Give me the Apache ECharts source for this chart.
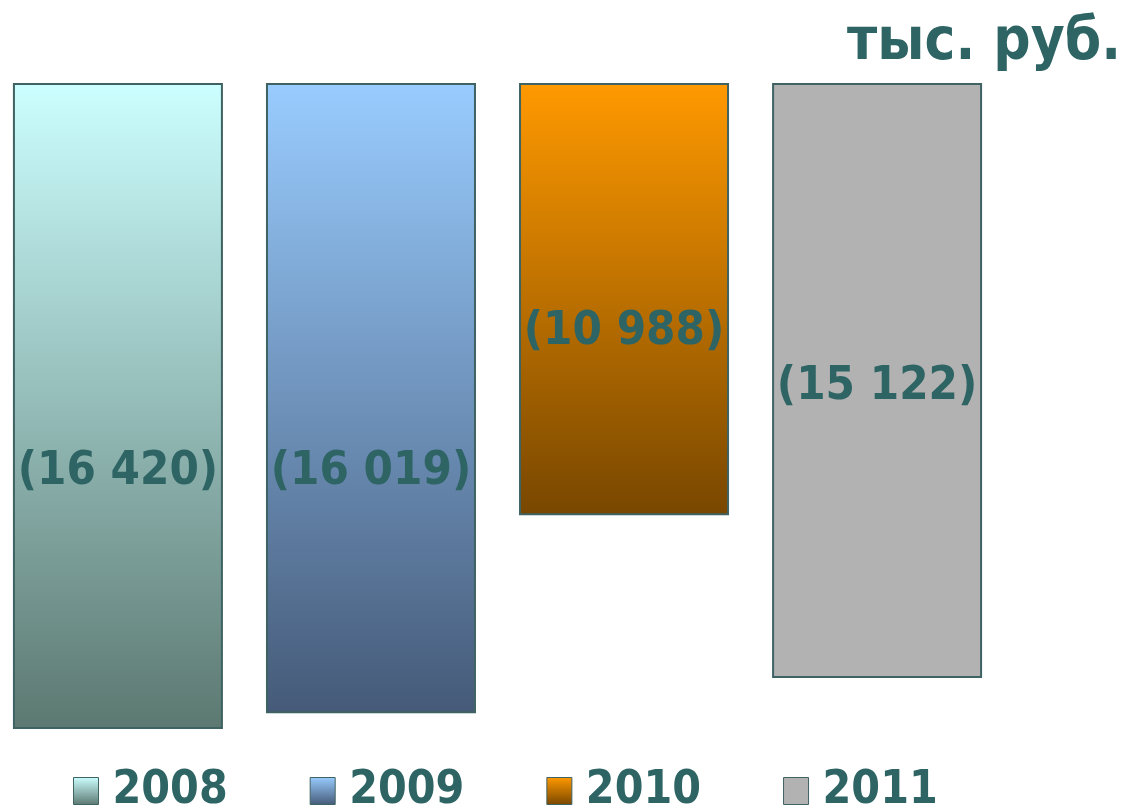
<!DOCTYPE html>
<html>
<head>
<meta charset="utf-8">
<script src="https://cdn.jsdelivr.net/npm/echarts@6/dist/echarts.min.js"></script>
<style>
html,body{margin:0;padding:0;background:#fff;}
#chart{width:1125px;height:807px;}
</style>
</head>
<body>
<div id="chart"></div>
<script>
// ---- data ----
const years = ['2008', '2009', '2010', '2011'];
const values = [-16420, -16019, -10988, -15122];
const unitLabel = 'тыс. руб.';
const category = [''];

// ---- styles ----
const topColors = ['#CCFFFF', '#99CCFF', '#FF9900', '#B2B2B2'];
const bottomColors = ['#5C7871', '#455A78', '#784700', '#B2B2B2'];
const labelOffsets = [66, 74, 33, 6];
const textColor = '#2E6464';
const fontFam = '"DejaVu Sans Condensed", "DejaVu Sans", sans-serif';

function fmt(v) {
  const s = Math.abs(v).toString().replace(/\B(?=(\d{3})+(?!\d))/g, ' ');
  return v < 0 ? '(' + s + ')' : s;
}

const chart = echarts.init(document.getElementById('chart'), null, {renderer: 'canvas'});

const series = years.map((y, i) => ({
  name: y,
  type: 'bar',
  data: [values[i]],
  barWidth: 210,
  barGap: '20.5%',
  itemStyle: {
    color: new echarts.graphic.LinearGradient(0, 0, 0, 1, [
      {offset: 0, color: topColors[i]},
      {offset: 1, color: bottomColors[i]}
    ]),
    borderColor: '#3F6262',
    borderWidth: 2
  },
  label: {
    show: true,
    position: 'inside',
    offset: [0, labelOffsets[i]],
    formatter: p => fmt(p.value),
    color: textColor,
    fontFamily: fontFam,
    fontWeight: 'bold',
    fontSize: 47
  },
  emphasis: {disabled: true}
}));

chart.setOption({
  animation: false,
  backgroundColor: '#ffffff',
  title: {
    text: unitLabel,
    right: -1,
    top: 10,
    textStyle: {
      color: textColor,
      fontFamily: fontFam,
      fontWeight: 'bold',
      fontSize: 58
    }
  },
  legend: {
    data: years,
    left: 68,
    bottom: -12,
    itemWidth: 25,
    itemHeight: 27,
    itemGap: 82,
    icon: 'rect',
    textStyle: {
      color: textColor,
      fontFamily: fontFam,
      fontWeight: 'bold',
      fontSize: 46,
      padding: [0, 0, 0, 9]
    },
    itemStyle: {borderColor: '#3F6262', borderWidth: 1}
  },
  grid: {left: 13, right: 143, top: 83, bottom: 78, containLabel: false},
  xAxis: {
    type: 'category',
    data: category,
    show: false
  },
  yAxis: {
    type: 'value',
    min: -16420,
    max: 0,
    show: false
  },
  series: series
});
</script>
</body>
</html>
